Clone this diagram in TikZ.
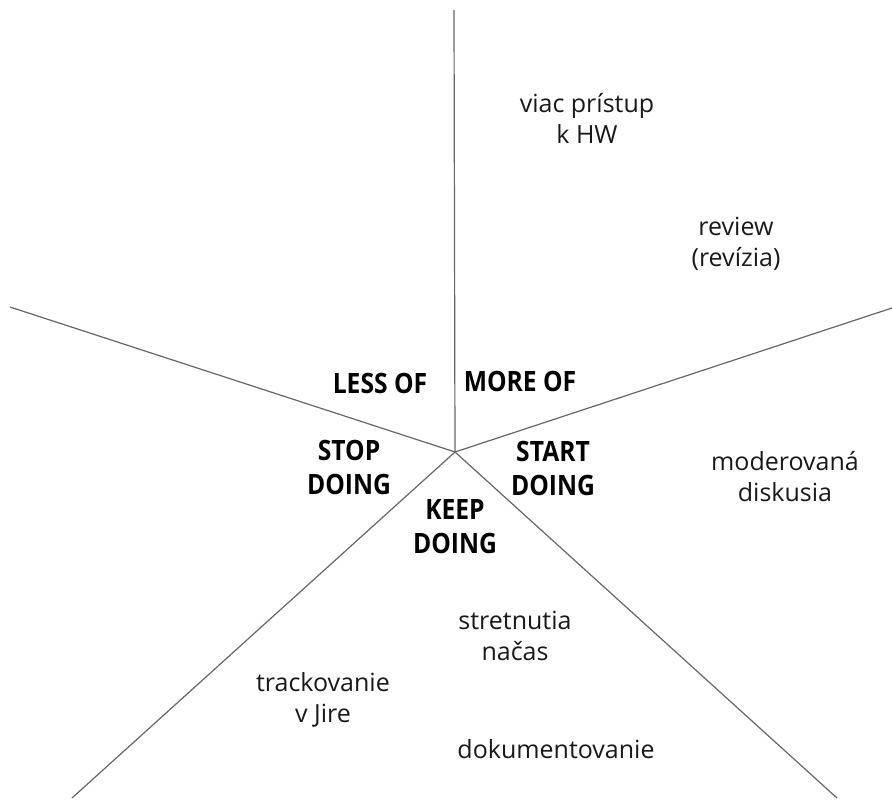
\documentclass[tikz,border=0pt]{standalone}
\usepackage{fontspec}
\setmainfont{Open Sans}
\usetikzlibrary{positioning}
\tikzstyle{spoke} = [draw=black!60, line width=1.2pt]
\tikzstyle{head} = [align=center, inner sep=0pt, font=\addfontfeatures{FakeStretch=0.88}\fontsize{28}{34}\selectfont\bfseries]
\tikzstyle{idea} = [align=center, inner sep=0pt, text=black!90, font=\fontsize{25}{31}\selectfont]

\begin{document}
\begin{tikzpicture}[x=1pt, y=-1pt]
\useasboundingbox (0,0) rectangle (892,800);

\coordinate (hub) at (455,452);
\coordinate (top) at (454,10);
\coordinate (left) at (10,307);
\coordinate (right) at (892,308);
\coordinate (botleft) at (72,798);
\coordinate (botright) at (837,798);

\draw [spoke] (hub) -- (top);
\draw [spoke] (hub) -- (left);
\draw [spoke] (hub) -- (right);
\draw [spoke] (hub) -- (botleft);
\draw [spoke] (hub) -- (botright);

\node (less) [head] at (380,383) {LESS OF};
\node (more) [head] at (520,381) {MORE OF};
\node (stop) [head] at (349,467) {STOP\\DOING};
\node (start) [head] at (553,468) {START\\DOING};
\node (keep) [head] at (455,527) {KEEP\\DOING};

\node (hw) [idea] at (587,118) {viac prístup\\k HW};
\node (review) [idea] at (736,244) {review\\(revízia)};
\node (diskusia) [idea] at (785,477) {moderovaná\\diskusia};
\node (nacas) [idea] at (515,636) {stretnutia\\načas};
\node (jira) [idea] at (323,700) {trackovanie\\v Jire};
\node (doku) [idea] at (556,749) {dokumentovanie};

\end{tikzpicture}
\end{document}
